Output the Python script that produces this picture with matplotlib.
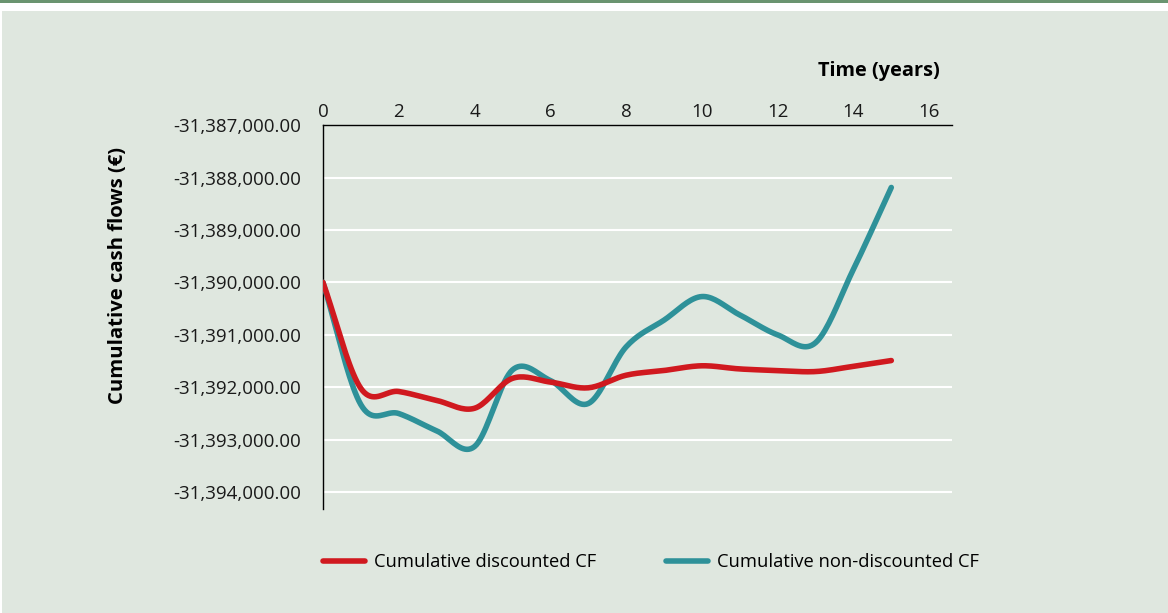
import numpy as np
import matplotlib
matplotlib.use("Agg")
import matplotlib.pyplot as plt
from matplotlib.patches import Rectangle
from matplotlib.ticker import FuncFormatter

years = list(range(16))
discounted = [-31390000, -31392020, -31392080, -31392250, -31392400, -31391830,
              -31391900, -31392010, -31391770, -31391680, -31391590, -31391650,
              -31391680, -31391700, -31391600, -31391490]
non_discounted = [-31390000, -31392330, -31392500, -31392830, -31393130, -31391670,
                  -31391870, -31392310, -31391230, -31390720, -31390270, -31390620,
                  -31391000, -31391150, -31389750, -31388190]
y_ticks = [-31387000, -31388000, -31389000, -31390000, -31391000,
           -31392000, -31393000, -31394000]
x_ticks = [0, 2, 4, 6, 8, 10, 12, 14, 16]

BG = "#dfe7df"
RED = "#d0191f"
TEAL = "#2e9199"


def smooth(x, y, n=20):
    """Catmull-Rom curve through the points (like a spreadsheet's smoothed line)."""
    x = np.asarray(x, float)
    y = np.asarray(y, float)
    px = np.concatenate([[2 * x[0] - x[1]], x, [2 * x[-1] - x[-2]]])
    py = np.concatenate([[2 * y[0] - y[1]], y, [2 * y[-1] - y[-2]]])
    xs, ys = [], []
    t = np.linspace(0, 1, n, endpoint=False)
    for i in range(1, len(px) - 2):
        for p, out in ((px, xs), (py, ys)):
            p0, p1, p2, p3 = p[i - 1], p[i], p[i + 1], p[i + 2]
            out.extend(0.5 * (2 * p1 + (-p0 + p2) * t
                              + (2 * p0 - 5 * p1 + 4 * p2 - p3) * t ** 2
                              + (-p0 + 3 * p1 - 3 * p2 + p3) * t ** 3))
    xs.append(x[-1])
    ys.append(y[-1])
    return np.array(xs), np.array(ys)


plt.rcParams["font.family"] = ["Open Sans", "DejaVu Sans"]

fig = plt.figure(figsize=(11.68, 6.13), dpi=100)
fig.patch.set_facecolor("white")
fig.add_artist(Rectangle((2 / 1168, 0), 1, 1 - 11 / 613, transform=fig.transFigure,
                         facecolor=BG, edgecolor="none", zorder=-10))
fig.add_artist(Rectangle((0, 1 - 3 / 613), 1, 3 / 613, transform=fig.transFigure,
                         facecolor="#6a9470", edgecolor="none", zorder=-10))

ax = fig.add_axes([0.2765, 0.1697, 0.5385, 0.6263])
ax.set_facecolor(BG)

sx, sy = smooth(years, discounted)
ax.plot(sx, sy, color=RED, lw=4, solid_capstyle="round", zorder=4,
        label="Cumulative discounted CF")
sx, sy = smooth(years, non_discounted)
ax.plot(sx, sy, color=TEAL, lw=4, solid_capstyle="round", zorder=3,
        label="Cumulative non-discounted CF")

ax.set_xlim(0, 16.6)
ax.set_ylim(-31394320, -31387000)
ax.set_xticks(x_ticks)
ax.set_yticks(y_ticks)
ax.yaxis.set_major_formatter(FuncFormatter(lambda v, p: f"{v:,.2f}"))
ax.xaxis.tick_top()
ax.tick_params(axis="both", length=0, labelsize=13.5, colors="#1a1a1a")
ax.tick_params(axis="x", pad=3)
ax.tick_params(axis="y", pad=16)
ax.grid(axis="y", color="white", lw=1.5)
ax.set_axisbelow(True)

for side in ("right", "bottom"):
    ax.spines[side].set_visible(False)
for side in ("left", "top"):
    ax.spines[side].set_color("black")
    ax.spines[side].set_linewidth(1.0)

fig.text(879 / 1168, 1 - 71 / 613, "Time (years)", ha="center", va="center",
         fontsize=14.4, fontweight="bold")
fig.text(118 / 1168, 1 - 275 / 613, "Cumulative cash flows (€)", ha="center",
         va="center", rotation=90, fontsize=14.6, fontweight="bold")

leg = fig.legend(loc="center", bbox_to_anchor=(651 / 1168, 1 - 562 / 613), ncol=2,
                 frameon=False, fontsize=13.2, handlelength=2.3, columnspacing=3.8,
                 handletextpad=0.5)

fig.savefig("out.png", dpi=100, facecolor=fig.get_facecolor())
